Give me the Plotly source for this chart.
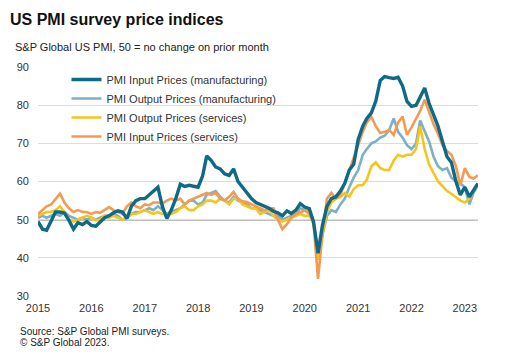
import pandas as pd
import plotly.graph_objects as go

dates = pd.date_range("2015-01-01", periods=100, freq="MS")

mfg_input = [
    49.5, 47.5, 47.2, 49.8, 52.0, 52.0, 51.7, 49.8, 47.5, 49.2, 48.7, 49.5,
    48.5, 48.3, 49.5, 50.5, 51.0, 51.8, 52.3, 52.0, 50.3, 53.5, 55.0, 55.5,
    55.5, 56.5, 57.5, 58.5, 53.5, 50.3, 52.5, 55.5, 59.3, 58.7, 59.0, 58.7,
    58.5, 61.5, 66.7, 65.5, 63.8, 63.3, 62.0, 61.6, 63.3, 60.0, 58.5, 57.0,
    55.5, 54.5, 54.0, 53.5, 53.0, 52.2, 51.8, 51.0, 52.3, 51.6, 52.5, 54.2,
    53.3, 52.9, 49.5, 41.2, 48.5, 53.5, 55.5, 56.0, 57.5, 59.5, 63.0, 64.5,
    71.0, 74.5, 76.5, 78.0, 81.0, 86.5, 87.5, 87.2, 87.0, 87.3, 85.0, 81.0,
    79.7, 80.0, 82.0, 84.5, 80.5, 77.5, 74.5, 70.5, 66.5, 65.0, 60.0, 56.5,
    58.5, 56.0, 57.5, 59.5,
]
mfg_output = [
    50.5, 51.0, 50.5, 51.0, 51.5, 51.0, 52.0, 51.0, 50.5, 50.0, 50.5, 50.0,
    50.5, 50.0, 50.5, 51.0, 51.0, 51.5, 51.0, 50.0, 50.5, 51.5, 52.0, 52.0,
    52.5, 53.0, 52.5, 53.5, 52.5, 51.5, 52.0, 52.5, 53.0, 54.0, 55.0, 55.0,
    54.0, 54.5, 56.5, 57.0, 57.5, 56.0, 55.0, 54.5, 56.0, 55.0, 54.5, 54.0,
    53.0, 53.0, 52.5, 52.0, 51.5, 51.0, 51.0, 50.0, 50.5, 51.0, 51.5, 53.0,
    52.5, 52.0, 49.0, 41.5, 46.0, 51.0, 52.5, 52.0, 54.0, 55.5, 58.5, 61.0,
    63.0, 67.0, 68.5, 70.0, 70.5, 71.5, 72.0, 73.5, 76.5, 73.0, 71.5, 69.5,
    68.5, 70.0, 76.0, 73.0, 70.5, 66.5, 64.0, 63.0, 63.5, 61.0, 60.0, 59.5,
    58.5, 54.0, 57.0, 59.0,
]
svc_output = [
    51.0, 51.5, 52.0, 52.0, 52.5, 53.5, 52.0, 50.0, 49.5, 50.0, 50.5, 51.0,
    50.5, 49.8, 50.0, 51.0, 50.5, 51.0, 50.5, 50.0, 50.5, 51.5, 51.5, 52.0,
    52.5, 52.0, 51.5, 52.0, 51.5, 51.5, 51.5, 52.0, 53.0, 53.5, 52.5, 52.5,
    53.5, 54.0, 55.0, 55.0, 54.5, 55.5, 55.0, 54.0, 55.5, 55.5, 54.0, 53.5,
    53.0, 53.0, 51.5, 52.0, 52.5, 51.0, 50.0, 49.5, 50.0, 50.5, 51.0, 51.5,
    51.0, 51.0, 49.5, 39.5, 46.0, 52.0, 54.5, 55.5, 56.0, 57.0, 56.0, 58.0,
    59.0, 59.0, 60.5, 64.0, 65.0, 63.5, 63.0, 63.0, 65.5, 67.0, 66.5, 67.0,
    67.0, 68.5, 74.5, 68.5, 64.5, 62.0, 60.0, 58.8, 57.5, 56.8, 56.0, 55.0,
    54.5, 55.5, 57.5, 59.0,
]
svc_input = [
    51.5, 52.5, 53.5, 54.0, 55.5, 56.8, 54.5, 53.0, 52.0, 52.5, 52.0, 52.0,
    51.5, 52.0, 51.8, 52.5, 53.3, 52.5, 52.0, 51.5, 53.5, 54.5, 53.5, 53.0,
    54.0, 53.8, 54.5, 54.5, 54.2, 55.0, 55.5, 55.0, 55.5, 54.0, 55.0, 55.5,
    56.0, 56.5, 57.0, 56.5, 57.0, 55.5, 55.0, 56.0, 57.3, 55.5, 54.8, 54.6,
    54.0, 53.5, 52.8, 52.4, 53.0, 53.0, 50.0, 47.5, 48.8, 50.5, 51.5, 52.0,
    52.4, 51.6, 49.0, 34.5, 46.0, 55.5, 57.0, 55.5, 56.5, 59.5, 63.0, 66.0,
    70.0, 73.0, 75.5, 77.0, 74.5, 72.7, 73.0, 73.5, 72.2, 75.5, 77.0, 72.2,
    74.2, 76.3, 78.5, 81.4, 78.0, 75.0, 72.5, 69.5, 68.0, 67.0, 64.0, 59.0,
    63.5, 61.2, 60.8, 61.6,
]

series_names = [
    "PMI Input Prices (manufacturing)",
    "PMI Output Prices (manufacturing)",
    "PMI Output Prices (services)",
    "PMI Input Prices (services)",
]
series_values = [mfg_input, mfg_output, svc_output, svc_input]
colors = ["#0e6a86", "#7cb0c6", "#f7c51a", "#f59a52"]
widths = [3.4, 2.6, 2.6, 2.6]
y_ticks = [30, 40, 50, 60, 70, 80, 90]

W, H = 506, 359
L, R, T, B = 37.5, 28, 67, 63
PW, PH = W - L - R, H - T - B

def px_x(px):
    return (px - L) / PW

def px_y(py):
    return (H - B - py) / PH

fig = go.Figure()
order = [1, 2, 3, 0]
for i in order:
    fig.add_trace(go.Scatter(
        x=dates, y=series_values[i], mode="lines", name=series_names[i],
        line=dict(color=colors[i], width=widths[i]),
        legendrank=i + 1,
    ))

fig.add_shape(type="line", xref="paper", yref="y", x0=0, x1=1, y0=50, y1=50,
              line=dict(color="black", width=1.3), layer="below")

font_family = "Liberation Sans, Arial, sans-serif"
fig.update_layout(
    width=W, height=H,
    margin=dict(l=L, r=R, t=T, b=B),
    paper_bgcolor="white", plot_bgcolor="white",
    font=dict(family=font_family, size=11, color="#333333"),
    showlegend=True,
    legend=dict(x=px_x(66), y=px_y(65), xanchor="left", yanchor="top",
                bgcolor="rgba(0,0,0,0)", font=dict(size=11, color="#333333"),
                itemwidth=30, tracegroupgap=0),
    title=dict(text="<b>US PMI survey price indices</b>", x=10 / W, xanchor="left",
               y=(H - 19) / H, yanchor="middle",
               font=dict(family=font_family, size=16, color="#111111")),
    xaxis=dict(range=[dates[0], dates[-1]], dtick="M12", tick0="2015-01-01",
               tickformat="%Y", showgrid=False, showline=False, zeroline=False,
               ticks="", ticklabelstandoff=4, tickfont=dict(size=11, color="#333333")),
    yaxis=dict(range=[30, 90], tickvals=y_ticks, showgrid=True, gridcolor="#dcdcdc",
               gridwidth=1, zeroline=False, showline=False, ticks="",
               ticklabelstandoff=8, tickfont=dict(size=11, color="#333333")),
    annotations=[
        dict(text="S&P Global US PMI, 50 = no change on prior month", xref="paper", yref="paper",
             x=px_x(12), y=px_y(47.5), xanchor="left", yanchor="middle", showarrow=False,
             font=dict(size=11, color="#222222")),
        dict(text="Source: S&P Global PMI surveys.", xref="paper", yref="paper",
             x=px_x(17), y=px_y(331), xanchor="left", yanchor="middle", showarrow=False,
             font=dict(size=10, color="#222222")),
        dict(text="© S&P Global 2023.", xref="paper", yref="paper",
             x=px_x(17), y=px_y(342), xanchor="left", yanchor="middle", showarrow=False,
             font=dict(size=10, color="#222222")),
    ],
)

fig.write_html("out.html", config={"displayModeBar": False},
               post_script="document.body.style.margin='0';document.body.style.padding='0';")
